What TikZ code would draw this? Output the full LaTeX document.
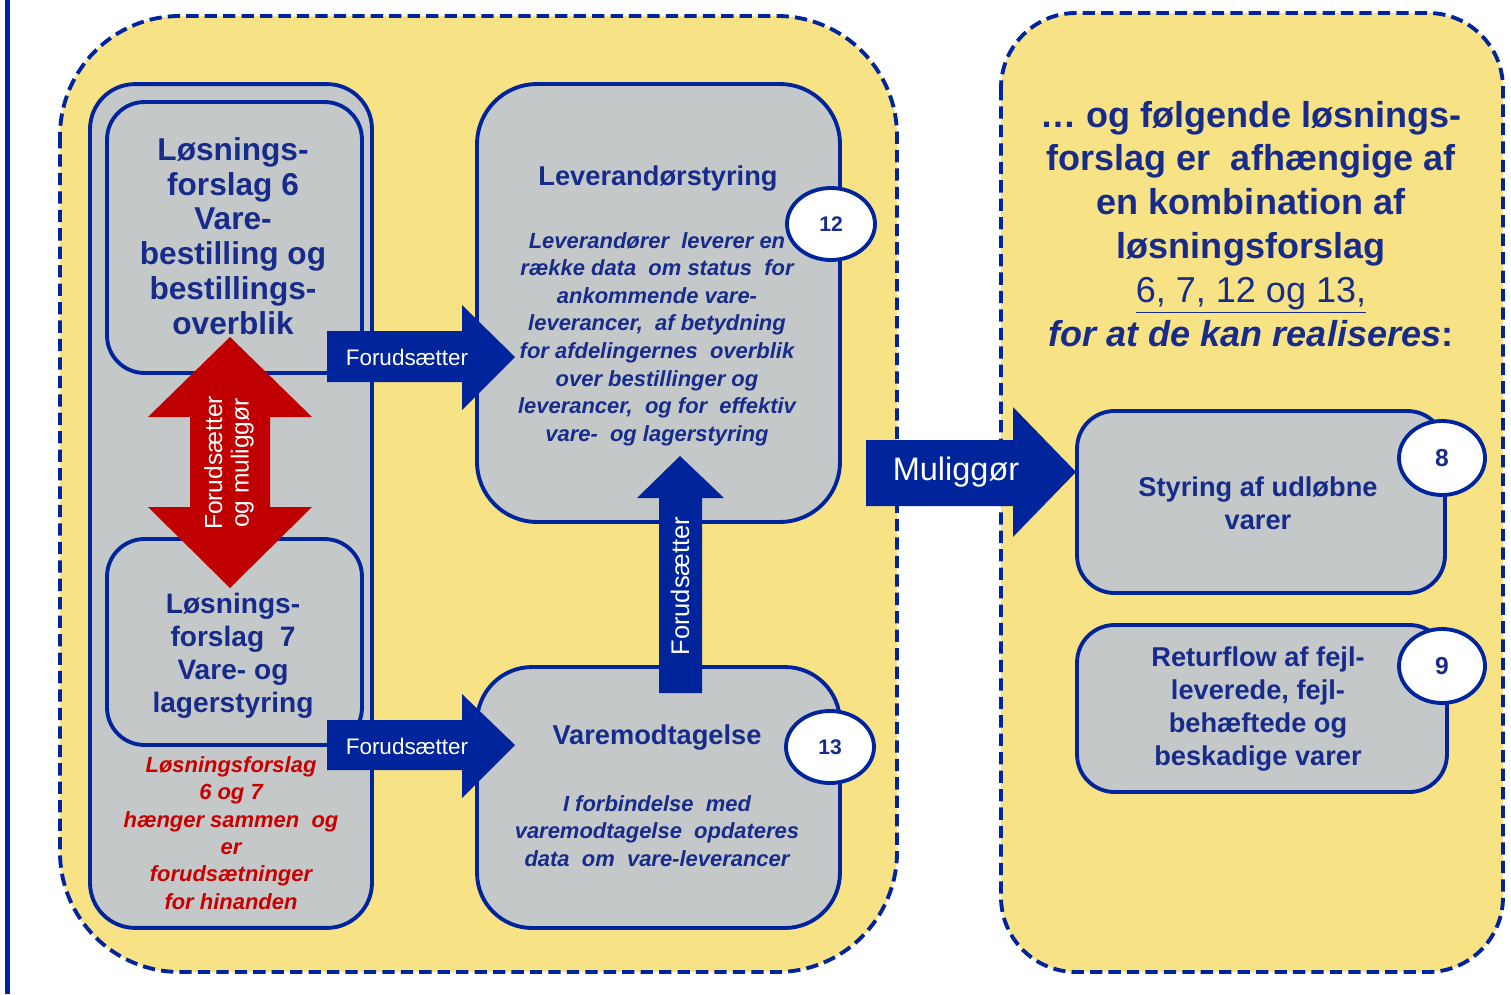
\documentclass[tikz,border=0pt]{standalone}
\usepackage{fontspec}
\setmainfont{Liberation Sans}
\usetikzlibrary{shapes.geometric}
\definecolor{bg}{HTML}{F7E286}
\definecolor{boxgray}{HTML}{C4C8C8}
\definecolor{dblue}{HTML}{00249B}
\definecolor{tblue}{HTML}{172B8A}
\definecolor{arred}{HTML}{C00000}
\definecolor{txred}{HTML}{C80000}
\begin{document}
\begin{tikzpicture}[x=0.02cm,y=-0.02cm,
  panel/.style={fill=bg, draw=dblue, line width=2.2pt, dash pattern=on 7pt off 3.5pt},
  gbox/.style={rectangle, fill=boxgray, draw=dblue, line width=2.2pt, inner sep=0pt},
  numc/.style={ellipse, fill=white, draw=dblue, line width=2.2pt, inner sep=0pt, text=tblue, font=\bfseries\fontsize{12}{14}\selectfont},
  numb/.style={numc, font=\bfseries\fontsize{14}{16}\selectfont},
  big/.style={text=tblue, align=center, inner sep=0pt, font=\bfseries\fontsize{18}{19.8}\selectfont},
  mid/.style={text=tblue, align=center, inner sep=0pt, font=\bfseries\fontsize{15.5}{18.7}\selectfont},
  body/.style={text=tblue, align=center, inner sep=0pt, font=\bfseries\itshape\fontsize{12.5}{15.7}\selectfont},
  redtxt/.style={text=txred, align=center, inner sep=0pt, font=\bfseries\itshape\fontsize{12.5}{15.6}\selectfont},
  arrowtxt/.style={text=white, align=center, inner sep=0pt, font=\fontsize{12.8}{15}\selectfont},
  righttxt/.style={text=tblue, align=center, inner sep=0pt, font=\bfseries\fontsize{20.5}{25}\selectfont}
]
\useasboundingbox (0,0) rectangle (1511,994);
\fill[white] (0,0) rectangle (1511,994);
\draw[dblue, line width=2.8pt] (7.5,0) -- (7.5,994);

% panels
\draw[panel, rounded corners=2.4cm] (60,16) rectangle (897,972);
\draw[panel, rounded corners=1.5cm] (1001,13) rectangle (1503,972);

% left group
\node[gbox, rounded corners=0.9cm, minimum width=5.64cm, minimum height=16.88cm] (grp) at (231,506) {};
\node[gbox, rounded corners=0.75cm, minimum width=5.1cm, minimum height=5.42cm] (b6) at (234.5,237.5) {};
\node[gbox, rounded corners=0.75cm, minimum width=5.1cm, minimum height=4.12cm] (b7) at (234.5,642) {};
\node[big] (t6) at (233,236) {Løsnings-\\forslag 6\\Vare-\\bestilling og\\bestillings-\\overblik};
\node[mid, font=\bfseries\fontsize{16}{18.7}\selectfont] (t7) at (233,656) {Løsnings-\\forslag~~7\\Vare- og\\lagerstyring};
\node[redtxt] (tred) at (231,833) {Løsningsforslag\\6 og 7\\hænger sammen~ og\\er\\forudsætninger\\for hinanden};

% red double arrow
\fill[arred] (230,337) -- (312,417) -- (270,417) -- (270,507) -- (312,507) -- (230,588) -- (148,507) -- (190,507) -- (190,417) -- (148,417) -- cycle;
\node[arrowtxt, rotate=90, font=\fontsize{14}{15}\selectfont] (tra) at (229,463) {Forudsætter\\og muliggør};

% right boxes of left panel
\node[gbox, rounded corners=1.2cm, minimum width=7.26cm, minimum height=8.76cm] (lev) at (658.5,303) {};
\node[gbox, rounded corners=1.1cm, minimum width=7.26cm, minimum height=5.22cm] (vare) at (658.5,797.5) {};
\node[mid] (tlev) at (658,179) {Leverandørstyring};
\node[body] (blev) at (657,339) {Leverandører~ leverer en\\række data~ om status~ for\\ankommende vare-\\leverancer,~ af betydning\\for afdelingernes~ overblik\\over bestillinger og\\leverancer,~ og for~ effektiv\\vare-~ og lagerstyring};
\node[mid] (tvare) at (657,738) {Varemodtagelse};
\node[body] (bvare) at (657,831) {I forbindelse~ med\\varemodtagelse~ opdateres\\data~ om~ vare-leverancer};

% blue arrows
\fill[dblue] (327,331) -- (462,331) -- (462,305) -- (515,357) -- (462,410) -- (462,382) -- (327,382) -- cycle;
\node[arrowtxt] (fa1) at (407,357) {Forudsætter};
\fill[dblue] (327,720) -- (462,720) -- (462,694) -- (515,745) -- (462,798) -- (462,770) -- (327,770) -- cycle;
\node[arrowtxt] (fa2) at (407,746) {Forudsætter};
\fill[dblue] (659,693) -- (659,498) -- (637,498) -- (680,456) -- (724,498) -- (702,498) -- (702,693) -- cycle;
\node[arrowtxt, rotate=90, font=\fontsize{14.5}{16}\selectfont] (fa3) at (680,586) {Forudsætter};
\fill[dblue] (866,440) -- (1013,440) -- (1013,407) -- (1076,472) -- (1013,537) -- (1013,506) -- (866,506) -- cycle;
\node[arrowtxt, font=\fontsize{18.5}{20}\selectfont] (mul) at (956,472) {Muliggør};

\node[numc, minimum width=1.76cm, minimum height=1.44cm] (c12) at (831,224) {12};
\node[numc, minimum width=1.76cm, minimum height=1.44cm] (c13) at (830,747) {13};

% right panel
\node[righttxt] (rt) at (1251,224) {… og følgende løsnings-\\forslag er~ afhængige af\\en kombination af\\løsningsforslag\\{\mdseries\underline{6, 7, 12 og 13,}}\\{\itshape for at de kan realiseres}:};
\node[gbox, rounded corners=0.75cm, minimum width=7.36cm, minimum height=3.64cm] (b8) at (1261,502) {};
\node[gbox, rounded corners=0.75cm, minimum width=7.4cm, minimum height=3.34cm] (b9) at (1262,708.5) {};
\node[mid] (t8) at (1258,503) {Styring af udløbne\\varer};
\node[mid] (t9) at (1258,709) {Returflow af fejl-\\leverede, fejl-\\behæftede og\\beskadige varer};
\node[numb, minimum width=1.72cm, minimum height=1.48cm] (c8) at (1442,458) {8};
\node[numb, minimum width=1.72cm, minimum height=1.48cm] (c9) at (1442,666) {9};
\end{tikzpicture}
\end{document}
